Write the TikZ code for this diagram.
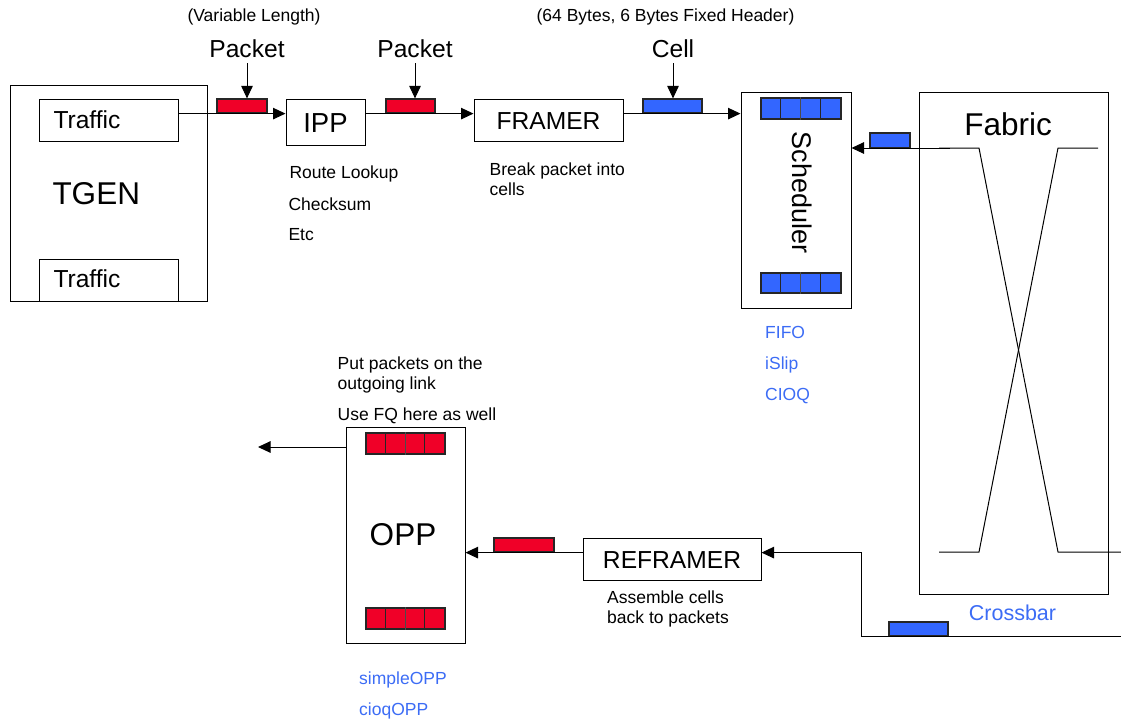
\documentclass[tikz,border=0pt]{standalone}
\usepackage{fontspec}
\setmainfont{Liberation Sans}
\usetikzlibrary{arrows.meta}
\definecolor{pktred}{RGB}{240,0,40}
\definecolor{cellblue}{RGB}{51,102,255}
\definecolor{txtblue}{RGB}{60,108,245}
\newcommand{\fs}[1]{\fontsize{#1}{#1}\selectfont}
\begin{document}
\begin{tikzpicture}[x=1pt,y=-1pt,
  box/.style={draw, line width=1pt, inner sep=0pt, fill=white},
  pkt/.style={draw=black!85, line width=1.2pt, inner sep=0pt, fill=pktred},
  cel/.style={draw=black!85, line width=1.2pt, inner sep=0pt, fill=cellblue},
  arr/.style={line width=1pt, -{Triangle[length=12.5pt,width=11.5pt]}},
  ln/.style={line width=1pt},
  small/.style={inner sep=0pt, font=\fs{17.5}},
  blue small/.style={small, text=txtblue},
  big/.style={inner sep=0pt, font=\fs{24.6}},
  title/.style={inner sep=0pt, font=\fs{31.5}}
]
\useasboundingbox (0,0) rectangle (1121,721);

% ---------- boxes ----------
\node[box, minimum width=197pt, minimum height=216pt] (tgen) at (108.5,193) {};
\node[box, minimum width=139pt, minimum height=42pt] (traffic1) at (108.5,120) {};
\node[box, minimum width=139pt, minimum height=42pt] (traffic2) at (108.5,280) {};
\node[box, minimum width=79pt, minimum height=46pt] (ipp) at (325.5,122) {};
\node[box, minimum width=149pt, minimum height=42pt] (framer) at (548.5,120) {};
\node[box, minimum width=110pt, minimum height=216pt] (sched) at (796,200) {};
\node[box, minimum width=189pt, minimum height=502pt] (fabric) at (1013.5,343) {};
\node[box, minimum width=119pt, minimum height=216pt] (opp) at (405.5,535) {};
\node[box, minimum width=178pt, minimum height=42pt] (reframer) at (672,559) {};

% ---------- packets / cells ----------
\node[pkt, minimum width=50pt, minimum height=14pt] (pkt1) at (242,106) {};
\node[pkt, minimum width=49pt, minimum height=14pt] (pkt2) at (410.5,106) {};
\node[cel, minimum width=59pt, minimum height=14pt] (cell1) at (672.5,106) {};
\node[cel, minimum width=40pt, minimum height=15pt] (cell2) at (890,140.5) {};
\node[pkt, minimum width=60pt, minimum height=14pt] (pkt3) at (524,545) {};
\node[cel, minimum width=59pt, minimum height=14pt] (cell3) at (918.5,629) {};

% ---------- queues ----------
\node[cel, minimum width=80pt, minimum height=21pt] (sq1) at (801,108.5) {};
\node[cel, minimum width=80pt, minimum height=20pt] (sq2) at (801,283) {};
\node[pkt, minimum width=79pt, minimum height=21pt] (oq1) at (405.5,443.5) {};
\node[pkt, minimum width=79pt, minimum height=21pt] (oq2) at (405.5,618.5) {};
\foreach \q/\w in {sq1/20, sq2/20, oq1/19.75, oq2/19.75}{
  \draw[line width=1.2pt, black!85] ([xshift=\w pt]\q.north west) -- ([xshift=\w pt]\q.south west);
  \draw[line width=0.5pt, black!70] ([xshift=2*\w pt]\q.north west) -- ([xshift=2*\w pt]\q.south west);
  \draw[line width=1.2pt, black!85] ([xshift=3*\w pt]\q.north west) -- ([xshift=3*\w pt]\q.south west);
}

% ---------- fabric crossbar lines ----------
\coordinate (f1) at (939,148);
\coordinate (f2) at (979,148);
\coordinate (f3) at (1058,148);
\coordinate (f4) at (1098,148);
\coordinate (f5) at (939,552);
\coordinate (f6) at (979,552);
\coordinate (f7) at (1058,552);
\coordinate (f8) at (1121,552);
\draw[ln] (f1) -- (f2) -- (f7) -- (f8);
\draw[ln] (f4) -- (f3) -- (f6) -- (f5);

% ---------- connectors ----------
\draw[arr] (traffic1.east |- pkt1.south) -- (ipp.west |- pkt1.south);
\draw[arr] (ipp.east |- pkt2.south) -- (framer.west |- pkt2.south);
\draw[arr] (framer.east |- cell1.south) -- (sched.west |- cell1.south);
\coordinate (fin) at (950,148);
\draw[arr] (fin) -- (sched.east |- fin);
\coordinate (fbin) at (1121,636);
\coordinate (fbturn) at (861,636);
\draw[arr] (fbin) -- (fbturn) -- (fbturn |- pkt3.south) -- (reframer.east |- pkt3.south);
\draw[arr] (reframer.west |- pkt3.south) -- (opp.east |- pkt3.south);
\coordinate (out) at (258,447);
\draw[arr] (opp.west |- out) -- (out);

\coordinate (a1) at (247,63);
\coordinate (a2) at (415,63);
\coordinate (a3) at (673,63);
\draw[arr] (a1) -- (a1 |- pkt1.north);
\draw[arr] (a2) -- (a2 |- pkt2.north);
\draw[arr] (a3) -- (a3 |- cell1.north);

% ---------- texts ----------
\node[small, anchor=base] (varlen) at (254,21.7) {(Variable Length)};
\node[small, anchor=base] (cellsize) at (665.5,21.7) {(64 Bytes, 6 Bytes Fixed Header)};
\node[big, anchor=base] (lpkt1) at (247,57.5) {Packet};
\node[big, anchor=base] (lpkt2) at (415,57.5) {Packet};
\node[big, anchor=base] (lcell) at (673,57.5) {Cell};

\node[big, anchor=base west] (ttraffic1) at (53.3,128.3) {Traffic};
\node[big, anchor=base west] (ttraffic2) at (53.3,287.3) {Traffic};
\node[title, anchor=base west] (ttgen) at (52.3,204) {TGEN};
\node[inner sep=0pt, font=\fs{27.5}, anchor=base] (tipp) at (325.5,132.3) {IPP};
\node[big, anchor=base] (tframer) at (548.5,129.3) {FRAMER};
\node[inner sep=0pt, font=\fs{27}, rotate=-90] (tsched) at (802,192.5) {Scheduler};
\node[title, anchor=base] (tfabric) at (1008,135) {Fabric};
\node[title, anchor=base] (topp) at (403,545.7) {OPP};
\node[big, anchor=base] (treframer) at (672,568.3) {REFRAMER};
\node[inner sep=0pt, font=\fs{21.5}, text=txtblue, anchor=base] (tcrossbar) at (1012.5,620) {Crossbar};

\node[small, anchor=base west] (troute) at (289.3,178.3) {Route Lookup};
\node[small, anchor=base west] (tcheck) at (288.3,210) {Checksum};
\node[small, anchor=base west] (tetc) at (288.3,240) {Etc};
\node[small, anchor=base west] (tbreak1) at (489.5,175.7) {Break packet into};
\node[small, anchor=base west] (tbreak2) at (489.5,195) {cells};
\node[blue small, anchor=base west] (tfifo) at (765,338) {FIFO};
\node[blue small, anchor=base west] (tislip) at (765,369.5) {iSlip};
\node[blue small, anchor=base west] (tcioq) at (765,400) {CIOQ};
\node[small, anchor=base west] (tput1) at (337.5,369.3) {Put packets on the};
\node[small, anchor=base west] (tput2) at (337.5,389) {outgoing link};
\node[small, anchor=base west] (tfq) at (337.5,420) {Use FQ here as well};
\node[small, anchor=base west] (tasm1) at (607,603.3) {Assemble cells};
\node[small, anchor=base west] (tasm2) at (607,623.3) {back to packets};
\node[blue small, anchor=base west] (tsimple) at (359,684.3) {simpleOPP};
\node[blue small, anchor=base west] (tcioqopp) at (359,715) {cioqOPP};
\end{tikzpicture}
\end{document}
